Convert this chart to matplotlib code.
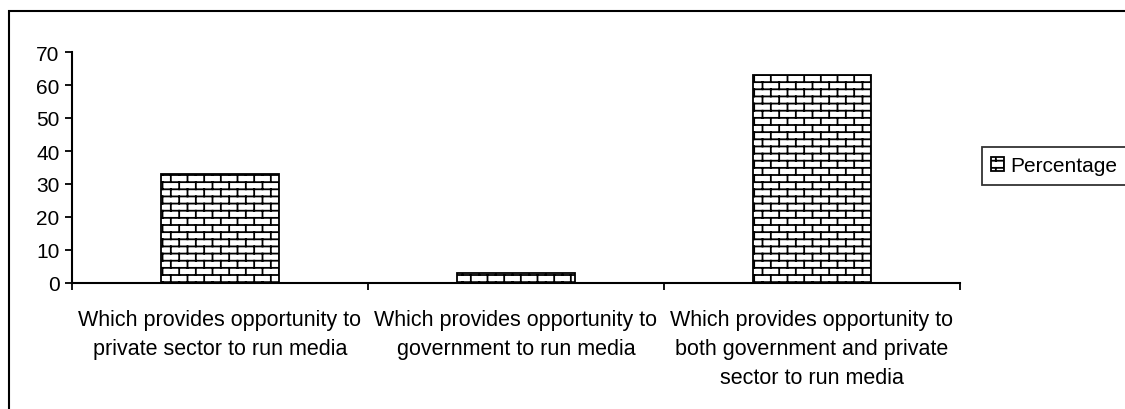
import numpy as np
import matplotlib
matplotlib.use("Agg")
import matplotlib.pyplot as plt
import matplotlib.hatch as mhatch
from matplotlib.patches import Rectangle
from matplotlib.path import Path

categories = [
    "Which provides opportunity to\nprivate sector to run media",
    "Which provides opportunity to\ngovernment to run media",
    "Which provides opportunity to\nboth government and private\nsector to run media",
]
percentage = [33, 3, 63]
series_name = "Percentage"
y_ticks = [0, 10, 20, 30, 40, 50, 60, 70]


class BrickHatch(mhatch.HatchPatternBase):
    """Brick-wall hatch triggered by '+'."""
    def __init__(self, hatch, density):
        self.on = hatch.count('+') > 0
        self.rows = 14
        self.cols = 6
        self.num_vertices = (2 * self.rows + 2 * (self.rows + 1) * self.cols) if self.on else 0

    def set_vertices_and_codes(self, vertices, codes):
        i = 0
        n, m = self.rows, self.cols
        for k in range(n):
            y = (k + 0.5) / n
            vertices[i] = (0.0, y); codes[i] = Path.MOVETO; i += 1
            vertices[i] = (1.0, y); codes[i] = Path.LINETO; i += 1
        for k in range(-1, n):
            y0 = (k + 0.5) / n
            y1 = (k + 1.5) / n
            off = 0.25 if k % 2 == 0 else 0.75
            for j in range(m):
                xx = (j + off) / m
                vertices[i] = (xx, y0); codes[i] = Path.MOVETO; i += 1
                vertices[i] = (xx, y1); codes[i] = Path.LINETO; i += 1


mhatch._hatch_types = [BrickHatch]

plt.rcParams['font.family'] = ['Liberation Sans', 'DejaVu Sans']
plt.rcParams['hatch.linewidth'] = 1.3
plt.rcParams['hatch.color'] = 'black'

fig = plt.figure(figsize=(11.25, 4.1), dpi=100)
W, H = 1125, 410
ax = fig.add_axes([72 / W, 1 - 284 / H, (960 - 72) / W, (284 - 53) / H])

x = np.arange(len(categories))
ax.bar(x, percentage, width=0.4, color='white', edgecolor='black',
       linewidth=1.3, hatch='+', label=series_name, zorder=2)

ax.set_xlim(-0.5, len(categories) - 0.5)
ax.set_ylim(0, 70)
ax.set_yticks(y_ticks)
ax.set_yticklabels([str(v) for v in y_ticks], fontsize=15)
ax.set_xticks(np.arange(len(categories) + 1) - 0.5)
ax.set_xticklabels([])
ax.set_xticks(x, minor=True)
ax.set_xticklabels(categories, minor=True, fontsize=15.5, linespacing=1.5)
ax.tick_params(axis='x', which='minor', length=0, pad=19)
ax.tick_params(axis='x', which='major', length=5, width=1.3, direction='out')
ax.tick_params(axis='y', length=5, width=1.3, direction='out', pad=4)

for s in ['top', 'right']:
    ax.spines[s].set_visible(False)
for s in ['left', 'bottom']:
    ax.spines[s].set_linewidth(1.5)
ax.spines['bottom'].set_zorder(3)

leg = ax.legend(loc='upper left', bbox_to_anchor=(982 / W, 1 - 148 / H),
                bbox_transform=fig.transFigure, fontsize=15, frameon=True,
                fancybox=False, edgecolor='black', handlelength=0.6,
                handleheight=0.6, handletextpad=0.3, borderpad=0.45,
                borderaxespad=0)
leg.get_frame().set_linewidth(1.3)

fig.patches.append(Rectangle((9 / W, -0.1), 1.2, (H - 12) / H + 0.1,
                             transform=fig.transFigure, fill=False,
                             edgecolor='black', linewidth=1.5))

fig.savefig("out.png", dpi=100)
